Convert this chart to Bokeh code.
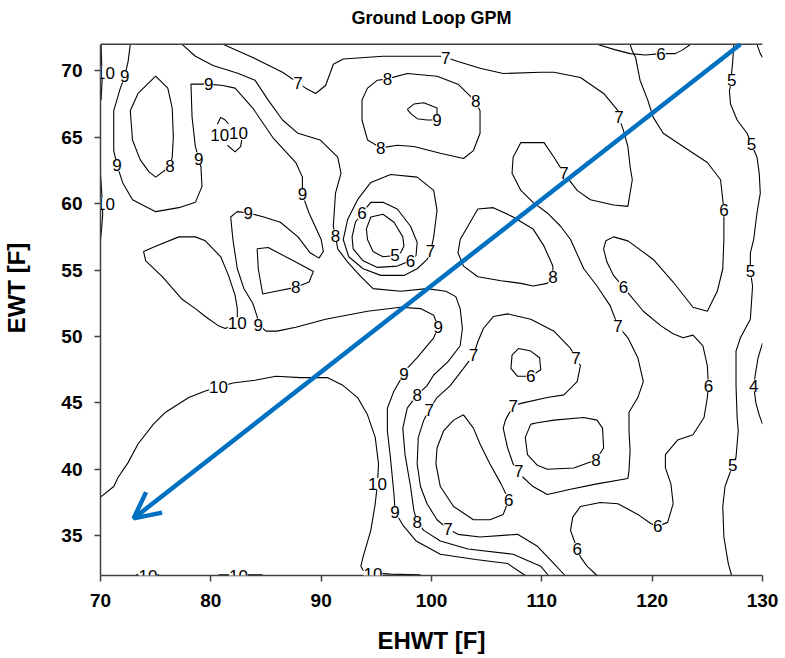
from bokeh.plotting import figure
from bokeh.models import ColumnDataSource, LabelSet, Label, Arrow, OpenHead, Span, FixedTicker, Range1d
from bokeh.core.properties import value
from bokeh.embed import file_html
from bokeh.resources import INLINE

# ---------------- data (in axis units) ----------------
title_text = "Ground Loop GPM"
x_label = "EHWT [F]"
y_label = "EWT [F]"
x_ticks = [70, 80, 90, 100, 110, 120, 130]
y_ticks = [35, 40, 45, 50, 55, 60, 65, 70]
x_lim = (70, 130)
y_lim = (32, 72)

# contour polylines: lists of (EHWT, EWT) points
c10_edge_top = [(70.05, 72), (70.1, 70.7), (70.15, 69.3), (70.05, 67.8)]
c10_edge_mid = [(70.0, 62.2), (70.1, 61.0), (70.2, 59.2), (70.1, 58.1), (70.0, 57.3)]
c10_small_a = [(80.6, 66.0), (80.9, 66.5), (81.3, 66.3), (81.6, 66.0)]
c10_small_b = [(81.5, 64.4), (82.2, 63.9), (82.7, 64.3), (82.8, 64.8)]
c10_loop = [(73.9, 56.4), (74.1, 55.7), (75.6, 54.5), (77.4, 52.8), (78.6, 52.1), (79.5, 51.5),
            (80.7, 50.8), (81.3, 50.6), (82.4, 51.0), (82.4, 52.1), (82.2, 53.1), (81.6, 54.6),
            (80.9, 56.0), (79.5, 57.2), (78.6, 57.5), (77.1, 57.5), (75.0, 56.8), (73.9, 56.4)]
c10_lower = [(70.0, 37.9), (71.2, 38.7), (71.6, 39.4), (72.5, 40.5), (73.4, 41.9), (74.8, 43.4),
             (75.9, 44.3), (78.0, 45.4), (79.5, 45.9), (80.7, 46.2), (82.0, 46.5), (84.0, 46.7),
             (85.9, 47.0), (88.1, 46.9), (90.6, 46.9), (92.0, 46.3), (93.3, 45.4), (94.2, 44.1),
             (94.9, 42.4), (95.2, 40.4), (95.1, 38.9), (94.9, 37.4), (94.5, 35.4), (93.8, 33.4),
             (93.6, 32.7), (93.8, 32.4), (94.7, 32.2), (96.3, 32.1), (99.0, 32.05)]
c10_bottom_a = [(73.2, 32.05), (75.3, 32.05)]
c10_bottom_b = [(80.7, 32.05), (84.7, 32.05)]

c9_main = [(72.7, 72), (72.5, 70.7), (72.2, 69.6), (71.8, 68.7), (71.2, 67.0), (71.2, 64.0),
           (71.5, 62.9), (72.0, 61.6), (72.9, 60.3), (75.0, 59.4), (77.1, 59.7), (78.6, 60.1),
           (79.2, 61.3), (79.1, 62.8), (78.9, 63.4), (78.6, 64.3), (78.3, 66.5), (78.2, 69.0),
           (79.8, 69.0), (81.1, 68.9), (82.2, 68.7), (83.8, 67.2), (85.6, 65.0), (87.7, 63.1),
           (88.3, 62.0), (88.3, 60.7), (88.9, 59.3), (89.5, 58.2), (90.0, 57.3), (90.2, 56.4),
           (89.8, 55.9), (89.0, 56.3), (87.9, 57.5), (86.3, 58.6), (84.8, 59.0), (83.4, 59.3),
           (82.4, 59.4), (81.8, 59.0), (82.0, 57.3), (82.4, 55.1), (83.0, 53.6), (83.8, 52.5),
           (84.2, 51.5), (84.3, 50.9), (85.0, 50.4), (86.0, 50.4), (87.7, 50.7), (90.4, 51.3),
           (94.2, 51.9), (97.2, 52.2), (99.0, 52.1), (100.2, 51.6), (100.6, 50.7), (100.2, 49.9),
           (98.7, 48.4), (97.8, 47.6), (97.5, 47.2), (96.6, 45.9), (96.0, 44.6), (96.0, 42.9),
           (96.3, 40.7), (96.6, 38.1), (96.7, 36.8), (97.4, 35.8), (98.6, 34.6), (100.8, 33.6),
           (104.0, 33.2), (106.9, 32.9), (108.5, 32.0)]
c9_small = [(97.8, 67.1), (98.4, 67.5), (99.3, 67.6), (100.5, 67.2), (100.5, 66.3), (99.6, 66.3),
            (98.7, 66.4), (98.1, 66.8), (97.8, 67.1)]

c8_main = [(77.4, 72), (78.6, 71.1), (80.2, 70.4), (82.5, 69.8), (84.0, 69.3), (85.2, 67.8),
           (86.5, 66.3), (87.9, 65.3), (89.9, 64.8), (91.5, 63.5), (91.8, 62.3), (91.3, 60.8),
           (91.1, 58.3), (91.3, 57.6), (91.5, 56.6), (92.4, 55.6), (93.6, 54.5), (94.7, 53.6),
           (97.2, 53.4), (99.6, 53.6), (101.3, 53.4), (102.2, 53.0), (102.6, 52.1), (102.8, 50.6),
           (102.6, 49.3), (101.5, 48.1), (100.2, 47.1), (99.6, 46.3), (98.7, 45.6), (97.8, 44.6),
           (97.4, 43.1), (97.6, 41.1), (98.1, 38.7), (98.4, 36.9), (98.7, 36.0), (99.3, 35.4),
           (100.8, 34.6), (103.3, 34.0), (107.4, 33.6), (109.9, 32.7), (110.6, 32.0)]
c8_left = [(75.0, 69.6), (76.1, 68.7), (76.5, 67.2), (76.6, 65.0), (76.5, 63.5), (76.3, 62.8),
           (75.0, 62.0), (74.4, 62.4), (73.6, 63.3), (72.9, 64.8), (72.7, 67.0), (73.4, 68.3),
           (75.0, 69.6)]
c8_midleft = [(84.2, 56.6), (85.2, 56.7), (87.7, 55.6), (89.3, 54.9), (88.9, 54.1), (87.7, 53.7),
              (85.9, 53.4), (84.7, 53.2), (84.3, 55.1), (84.2, 56.6)]
c8_upper = [(96.0, 69.4), (97.8, 69.8), (100.5, 69.6), (102.4, 69.0), (104.0, 67.7), (104.4, 67.0),
            (104.4, 65.3), (103.8, 64.0), (102.9, 63.4), (100.8, 63.8), (98.4, 64.3), (96.9, 64.4),
            (95.4, 64.2), (94.2, 64.8), (93.7, 66.3), (93.7, 67.8), (94.2, 68.7), (95.1, 69.3),
            (96.0, 69.4)]
c8_right = [(102.6, 57.3), (104.2, 59.6), (105.6, 59.7), (107.4, 59.0), (109.2, 58.1), (110.2, 56.8),
            (111.0, 55.3), (111.0, 54.5), (110.5, 54.0), (109.2, 53.8), (108.1, 54.0), (106.3, 54.2),
            (104.2, 54.5), (102.9, 55.3), (102.4, 56.3), (102.6, 57.3)]
c8_lowright = [(109.0, 43.4), (108.5, 42.4), (108.7, 41.1), (109.6, 40.3), (110.5, 40.0), (112.9, 40.1),
               (114.9, 40.7), (115.6, 41.6), (115.5, 43.1), (115.0, 43.7), (113.8, 43.9), (111.1, 43.7),
               (109.6, 43.5), (109.0, 43.4)]

c7_main = [(81.1, 72), (83.8, 71.0), (86.5, 69.9), (87.9, 69.1), (88.6, 68.7), (89.5, 68.3),
           (90.4, 68.9), (90.8, 69.8), (91.1, 70.5), (92.0, 70.9), (95.6, 71.1), (100.8, 71.1),
           (101.3, 71.0), (102.4, 70.7), (104.4, 70.2), (106.5, 69.8), (109.9, 69.9), (111.1, 69.9),
           (113.5, 69.5), (115.6, 68.3), (116.9, 67.0), (117.0, 66.5), (117.4, 65.5), (117.8, 64.3),
           (118.0, 62.8), (118.2, 61.8), (117.9, 60.3), (117.8, 59.8), (116.5, 59.9), (114.4, 60.3),
           (113.2, 61.0), (112.0, 62.3), (111.1, 63.5), (110.2, 64.6), (109.0, 64.6), (108.1, 64.6),
           (107.4, 63.5), (107.3, 62.3), (108.1, 61.0), (109.2, 60.1), (110.5, 59.3), (111.7, 58.3),
           (112.6, 57.3), (113.8, 55.1), (115.0, 53.8), (116.2, 52.3), (116.9, 50.8), (117.8, 49.9),
           (118.7, 48.4), (119.2, 46.6), (118.7, 45.4), (117.9, 44.3), (117.9, 42.9), (118.0, 41.4),
           (117.9, 39.9), (117.8, 39.3), (115.0, 38.9), (112.6, 38.5), (110.5, 38.1), (109.2, 38.7),
           (108.3, 39.4), (107.9, 39.9), (107.4, 40.4), (106.9, 41.6), (106.5, 43.1), (106.7, 43.7),
           (107.4, 44.8), (108.3, 45.0), (110.5, 45.4), (112.0, 45.6), (113.2, 46.6), (113.5, 47.8),
           (113.1, 48.4), (112.6, 49.1), (111.1, 50.4), (109.0, 51.3), (106.9, 51.7), (105.6, 51.5),
           (104.7, 50.6), (104.2, 49.6), (103.8, 48.6), (102.9, 47.6), (101.7, 46.3), (100.5, 45.4),
           (99.8, 44.5), (99.3, 43.7), (98.8, 42.4), (98.7, 40.4), (99.0, 38.7), (99.6, 37.4),
           (100.5, 36.2), (101.5, 35.5), (102.4, 35.1), (104.4, 34.9), (107.8, 35.1), (109.6, 34.2),
           (111.1, 32.9), (112.1, 32.0)]
c7_center = [(99.9, 56.3), (100.2, 57.5), (100.5, 59.5), (100.2, 61.0), (98.7, 62.0), (96.3, 62.2),
             (94.5, 61.6), (93.3, 60.3), (92.4, 58.8), (92.0, 57.3), (92.5, 56.0), (93.8, 55.1),
             (95.4, 54.6), (97.5, 54.6), (98.7, 55.1), (99.6, 55.8), (99.9, 56.3)]

c6_center = [(93.7, 59.3), (94.5, 60.1), (95.6, 60.1), (96.9, 59.6), (98.1, 58.3), (98.7, 57.1),
             (98.6, 56.1), (98.1, 55.7), (96.9, 55.3), (95.1, 55.2), (93.8, 55.7), (92.9, 56.6),
             (92.8, 57.5), (93.1, 58.6), (93.7, 59.3)]
c6_top_arc = [(115.0, 72), (116.6, 71.6), (118.0, 71.3), (119.4, 71.2), (120.8, 71.3), (122.1, 71.3),
              (122.8, 71.6), (123.5, 72)]
c6_right = [(118.0, 72), (118.2, 71.5), (118.5, 71.0), (118.9, 69.3), (119.6, 67.8), (120.1, 66.5),
            (121.0, 65.3), (122.8, 64.3), (125.0, 63.1), (126.2, 61.8), (126.5, 59.5), (126.5, 57.3),
            (126.4, 55.1), (125.9, 53.4), (125.0, 51.9), (123.7, 52.2), (121.9, 54.1), (120.1, 55.8),
            (117.8, 57.2), (116.5, 57.5), (115.8, 57.2), (115.6, 56.6), (115.9, 55.6), (116.5, 54.6),
            (117.4, 53.7), (118.0, 53.1), (119.2, 51.9), (120.8, 50.8), (121.9, 50.2), (122.8, 49.9),
            (123.7, 50.1), (124.6, 49.3), (125.0, 47.8), (125.1, 46.3), (125.0, 45.4), (124.7, 43.9),
            (123.7, 42.6), (122.3, 42.2), (121.2, 41.1), (121.2, 40.1), (121.7, 38.9), (121.9, 37.4),
            (121.4, 36.0), (120.5, 35.7), (119.9, 35.9), (118.7, 36.6), (116.9, 37.4), (115.3, 37.5),
            (113.5, 37.2), (112.8, 36.4), (112.6, 35.4), (113.2, 34.0), (113.5, 33.4), (114.1, 32.7),
            (115.0, 32.0)]
c6_small = [(107.9, 49.1), (107.3, 48.6), (107.2, 47.6), (107.8, 47.0), (109.0, 47.0), (109.9, 47.5),
            (109.8, 48.4), (109.0, 48.9), (107.9, 49.1)]
c6_lower = [(102.9, 44.1), (102.0, 43.7), (101.1, 42.9), (100.5, 41.6), (100.4, 40.4), (100.8, 38.7),
            (102.0, 37.2), (103.8, 36.2), (105.3, 36.2), (106.5, 36.6), (107.0, 37.7), (106.3, 38.9),
            (105.3, 40.4), (104.4, 41.9), (103.8, 43.1), (102.9, 44.1)]

c5_center = [(94.5, 59.0), (95.6, 59.2), (96.6, 58.6), (97.4, 57.5), (97.5, 56.8), (97.2, 56.3),
             (96.7, 56.1), (95.6, 56.0), (94.7, 56.4), (94.2, 57.3), (94.1, 58.1), (94.5, 59.0)]
c5_right = [(127.4, 72), (127.3, 70.7), (127.2, 69.8), (127.2, 69.3), (127.0, 68.5), (127.1, 67.5),
            (127.7, 66.3), (128.6, 65.3), (129.0, 64.5), (129.5, 63.5), (129.7, 62.3), (129.8, 60.8),
            (129.5, 59.3), (129.2, 57.3), (128.9, 56.3), (128.9, 54.9), (129.1, 53.8), (128.9, 51.3),
            (128.0, 49.9), (127.6, 48.9), (127.6, 46.3), (127.7, 43.9), (127.8, 42.9), (127.6, 40.9),
            (127.3, 40.3), (126.6, 38.7), (126.4, 37.2), (126.5, 34.9), (126.9, 32.9), (127.2, 32.0)]
c5_corner = [(129.5, 72), (129.8, 71.3), (130.0, 71.0)]
c4_right = [(130.0, 49.5), (129.6, 48.4), (129.4, 47.4), (129.2, 46.3), (129.4, 45.0), (129.7, 44.1),
            (130.0, 43.4)]

contours = [c10_edge_top, c10_edge_mid, c10_small_a, c10_small_b, c10_loop, c10_lower,
            c10_bottom_a, c10_bottom_b, c9_main, c9_small, c8_main, c8_left, c8_midleft,
            c8_upper, c8_right, c8_lowright, c7_main, c7_center, c6_center, c6_top_arc,
            c6_right, c6_small, c6_lower, c5_center, c5_right, c5_corner, c4_right]

# contour labels: (x, y, text)
contour_labels = [
    (70.45, 69.85, "10"), (70.45, 60.0, "10"), (80.8, 65.2, "10"), (82.5, 65.3, "10"),
    (82.4, 51.0, "10"), (80.7, 46.2, "10"), (95.1, 38.9, "10"), (94.7, 32.1, "10"),
    (74.3, 32.0, "10"), (82.5, 32.0, "10"),
    (72.2, 69.6, "9"), (71.5, 62.9, "9"), (78.9, 63.4, "9"), (79.8, 69.0, "9"),
    (88.3, 60.7, "9"), (83.4, 59.3, "9"), (84.3, 50.9, "9"), (100.6, 50.7, "9"),
    (97.5, 47.2, "9"), (96.7, 36.8, "9"), (100.5, 66.3, "9"),
    (76.3, 62.8, "8"), (87.7, 53.7, "8"), (96.0, 69.4, "8"), (104.0, 67.7, "8"),
    (95.4, 64.2, "8"), (91.3, 57.6, "8"), (98.7, 45.6, "8"), (98.7, 36.0, "8"),
    (111.0, 54.5, "8"), (114.9, 40.7, "8"),
    (87.9, 69.1, "7"), (101.3, 71.0, "7"), (117.0, 66.5, "7"), (112.0, 62.3, "7"),
    (99.9, 56.4, "7"), (116.9, 50.8, "7"), (103.8, 48.6, "7"), (113.1, 48.4, "7"),
    (107.4, 44.8, "7"), (99.8, 44.5, "7"), (107.9, 39.9, "7"), (101.5, 35.5, "7"),
    (93.7, 59.3, "6"), (98.1, 55.7, "6"), (120.8, 71.3, "6"), (126.5, 59.5, "6"),
    (117.4, 53.7, "6"), (125.1, 46.3, "6"), (109.0, 47.0, "6"), (107.0, 37.7, "6"),
    (120.5, 35.7, "6"), (113.2, 34.0, "6"),
    (96.7, 56.1, "5"), (127.2, 69.3, "5"), (129.0, 64.5, "5"), (128.9, 54.9, "5"),
    (127.3, 40.3, "5"),
    (129.2, 46.3, "4"),
]

# blue arrow (start, end) in axis units
arrow_start = (128.0, 72.0)
arrow_end = (73.0, 36.3)

# ---------------- figure ----------------
FONT = "Liberation Sans"
AX = "#404040"
BLUE = "#0070C0"
# the frame extends above the data area to hold the title; the axis line stops at y_lim[1]
view_top = y_lim[1] + 3.3

p = figure(width=784, height=656, x_range=Range1d(*x_lim), y_range=Range1d(y_lim[0], view_top),
           output_backend="svg", toolbar_location=None,
           min_border_left=100, min_border_right=22, min_border_top=0, min_border_bottom=78)
p.grid.visible = False
p.outline_line_color = None
p.background_fill_color = "white"
p.border_fill_color = "white"

for ax in (p.xaxis[0], p.yaxis[0]):
    ax.axis_line_color = AX
    ax.axis_line_width = 1.5
    ax.major_tick_line_color = AX
    ax.major_tick_line_width = 1.5
    ax.major_tick_out = 6
    ax.major_tick_in = 0
    ax.minor_tick_line_color = None
    ax.major_label_text_font = FONT
    ax.major_label_text_font_size = "19px"
    ax.major_label_text_font_style = "bold"
    ax.major_label_text_color = "black"
    ax.axis_label_text_font = FONT
    ax.axis_label_text_font_size = "24px"
    ax.axis_label_text_font_style = "bold"
    ax.axis_label_text_color = "black"

p.xaxis.ticker = FixedTicker(ticks=x_ticks)
p.yaxis.ticker = FixedTicker(ticks=y_ticks)
p.yaxis.bounds = y_lim
p.xaxis.axis_label = x_label
p.yaxis.axis_label = y_label
p.xaxis.major_label_standoff = 12
p.yaxis.major_label_standoff = 12
p.xaxis.axis_label_standoff = 17
p.yaxis.axis_label_standoff = 28

p.add_layout(Span(location=y_lim[1], dimension="width", line_color=AX, line_width=1.5))

xs = [[pt[0] for pt in c] for c in contours]
ys = [[pt[1] for pt in c] for c in contours]
p.multi_line(xs, ys, line_color="black", line_width=1.1)

lab_src = ColumnDataSource(dict(x=[l[0] for l in contour_labels],
                                y=[l[1] for l in contour_labels],
                                t=[l[2] for l in contour_labels]))
p.add_layout(LabelSet(x="x", y="y", text="t", source=lab_src, text_align="center",
                      text_baseline="middle", text_font=value(FONT), text_font_size="17px",
                      text_color="black", background_fill_color="white"))

p.add_layout(Arrow(end=OpenHead(size=26, line_color=BLUE, line_width=4.5),
                   x_start=arrow_start[0], y_start=arrow_start[1],
                   x_end=arrow_end[0], y_end=arrow_end[1],
                   line_color=BLUE, line_width=4.5))

# chart title, centred over the data area, above its top edge
p.add_layout(Label(x=(x_lim[0] + x_lim[1]) / 2, y=y_lim[1] + 1.97, text=title_text,
                   text_align="center", text_baseline="middle", text_font=FONT,
                   text_font_size="18px", text_font_style="bold", text_color="black"))

open("out.html", "w").write(file_html(p, INLINE))
